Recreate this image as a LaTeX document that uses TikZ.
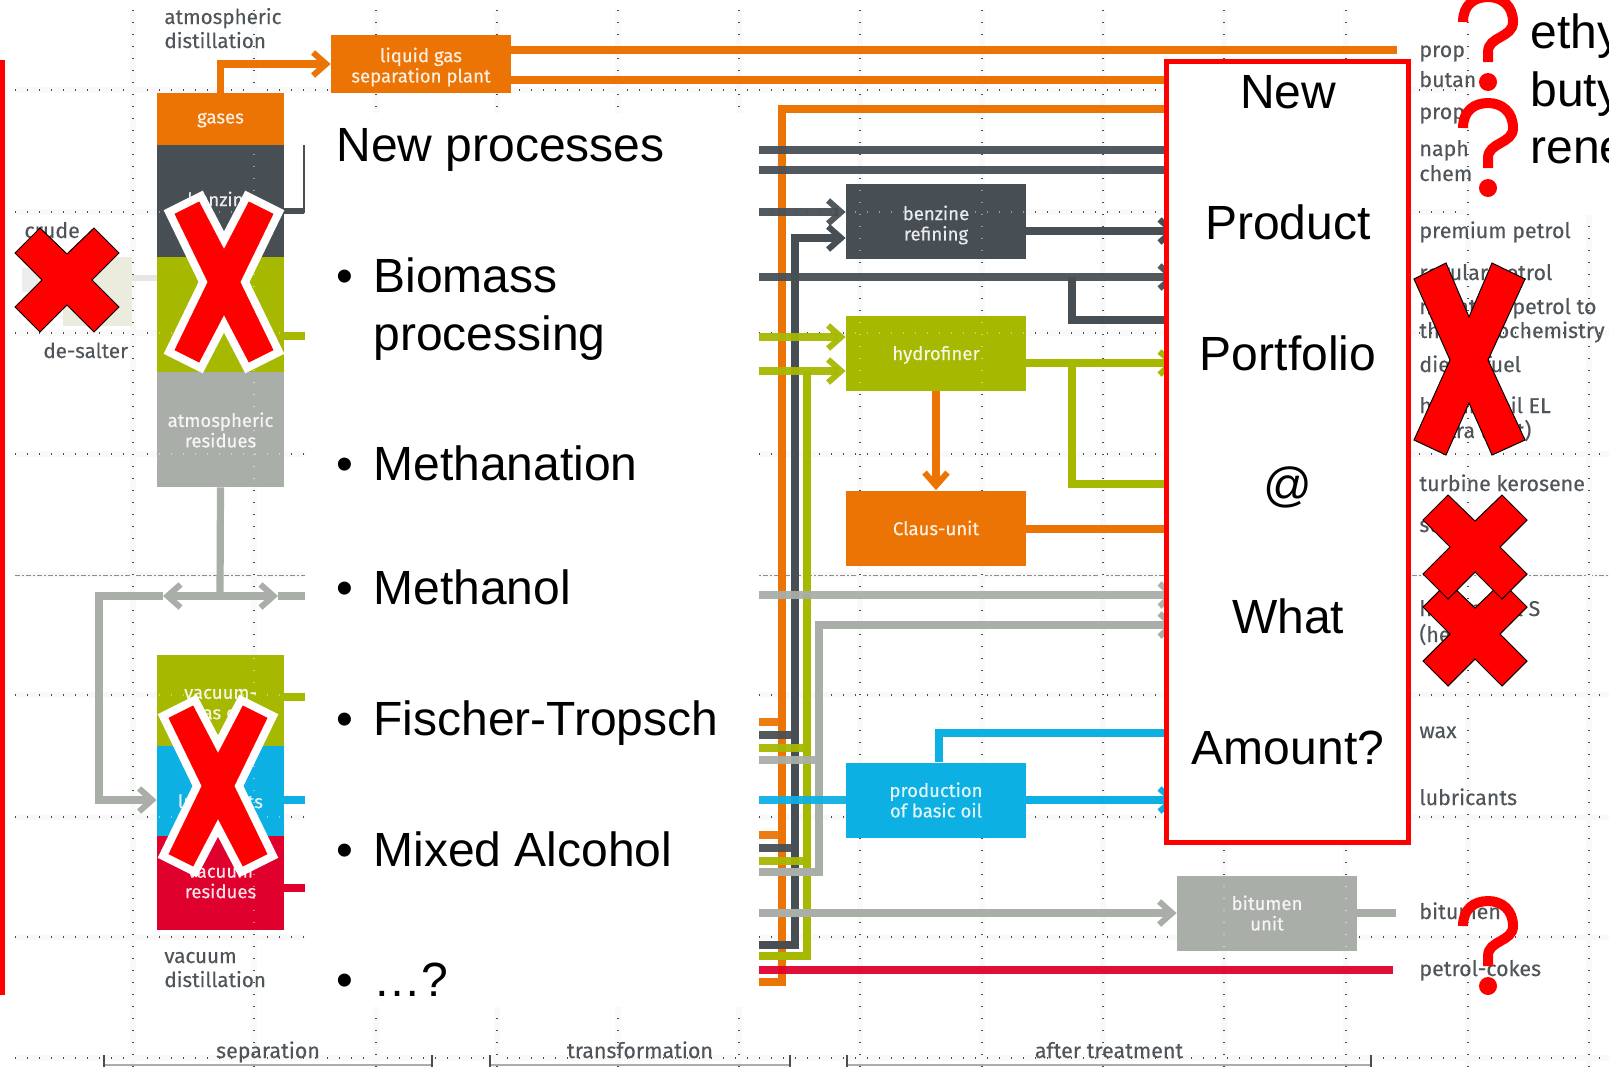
\documentclass[tikz,border=0pt]{standalone}
\usepackage{fontspec}
\setmainfont{Liberation Sans}
\newfontfamily\labelfont[FakeBold=0.25]{Fira Sans}
\usetikzlibrary{arrows.meta}
\definecolor{cOrange}{HTML}{EC7404}
\definecolor{cDark}{HTML}{474F55}
\definecolor{cGreen}{HTML}{A6B800}
\definecolor{cGray}{HTML}{A9AEA8}
\definecolor{cBlue}{HTML}{0DB0E3}
\definecolor{cRed}{HTML}{DF002D}
\definecolor{cTxt}{HTML}{50555A}
\tikzset{
  x=0.5pt,y=-0.5pt,
  griddot/.style={line width=0.54pt,dash pattern=on 0.55pt off 5.45pt,draw=black!70},
  gridhalo/.style={line width=3pt,draw=black!2.5},
  griddash/.style={line width=0.4pt,dash pattern=on 2.5pt off 1pt on 1pt off 1pt,draw=black!45},
  pipe/.style={line width=3.6pt,line cap=butt,line join=miter},
  pipeh/.style={pipe,opacity=.94},
  barb/.style={-{Straight Barb[length=6.5pt,width=11.5pt,line width=3pt]}},
  box/.style={inner sep=0pt,minimum width=90pt,minimum height=37.5pt},
  seg/.style={inner sep=0pt,minimum width=63.5pt},
  boxtxt/.style={inner sep=0pt,text=white,text opacity=.88,align=center,
     font=\labelfont\fontsize{9.3}{10.2}\selectfont},
  lbl/.style={inner sep=0pt,anchor=base west,align=left,text=cTxt,
     font=\labelfont\fontsize{10.7}{12}\selectfont},
  lbls/.style={lbl,font=\labelfont\fontsize{10.3}{12}\selectfont},
  big/.style={inner sep=0pt,anchor=base west,align=left,text=black,
     font=\fontsize{24}{29}\selectfont},
  bigc/.style={inner sep=0pt,anchor=base,text=black,font=\fontsize{24}{29}\selectfont},
  bigx/.pic={\path[fill=red,draw=white,line width=4pt,line join=miter]
     (-23,-86)--(0,-42)--(23,-86)--(55,-70)--(21,0)--(55,70)--(23,86)--(0,42)--(-23,86)--(-55,70)--(-21,0)--(-55,-70)--cycle;},
  tallx/.pic={\path[fill=red,draw=black,line width=0.5pt,line join=miter]
     (-23,-97)--(0,-43)--(23,-97)--(56,-81)--(19,0)--(56,80)--(23,95)--(0,43)--(-23,95)--(-55,80)--(-19,0)--(-55,-81)--cycle;},
  smallx/.pic={\path[fill=red,draw=black,line width=0.5pt,line join=miter]
     (-27,-52)--(0,-26)--(27,-52)--(52,-27)--(25,0)--(52,27)--(27,52)--(0,25)--(-27,52)--(-52,27)--(-25,0)--(-52,-27)--cycle;},
  qmark/.pic={\draw[red,line width=5pt,line cap=butt]
     (-25,30) .. controls (-25,13) and (-14,5) .. (0,5) .. controls (14,5) and (25,14) .. (25,30)
     .. controls (25,46) and (0,44) .. (0,60) -- (0,70);
     \fill[red] (0,90) circle[radius=4.5pt];}
}
\begin{document}
\begin{tikzpicture}
\useasboundingbox (0,0) rectangle (1609,1067);
\fill[white] (0,0) rectangle (1609,1067);

% background grid
\foreach \gy in {90,212,333,454,695,817,937,1058}{
  \draw[gridhalo] (15,\gy) -- (1609,\gy);
  \draw[griddot] (15,\gy) -- (1609,\gy);}
\draw[gridhalo] (15,575) -- (1609,575);
\draw[griddash] (15,575) -- (1609,575);
\foreach \gx in {133,254,376,497,618,739,860,982,1103,1224,1346,1468,1589}{
  \draw[gridhalo] (\gx,10) -- (\gx,1067);
  \draw[griddot] (\gx,10) -- (\gx,1067);}

% white cover panels
\fill[white] (305,113) rectangle (759,1007);
\fill[white] (1470,0) rectangle (1609,215);

% desalter
\fill[cGray!25!white!95!yellow] (63,257) rectangle (132,326);
\fill[cGray!22] (22,268) rectangle (63,292);
\draw[line width=3pt,cGray!30] (132,278) -- (157,278);

% process boxes
\node[box,fill=cOrange,minimum height=29pt] (lgas) at (421,64) {};
\node[box,fill=cDark] (benz) at (936,221) {};
\node[box,fill=cGreen] (hydro) at (936,353) {};
\node[box,fill=cOrange] (claus) at (936,528) {};
\node[box,fill=cBlue] (prod) at (936,800) {};
\node[box,fill=cGray] (bitu) at (1267,913) {};

% distillation columns
\node[seg,fill=cOrange,minimum height=26pt] (gases) at (220.5,119) {};
\node[seg,fill=cDark,minimum height=56pt] (benzc) at (220.5,201) {};
\node[seg,fill=cGreen,minimum height=57.5pt] (green1) at (220.5,314.5) {};
\node[seg,fill=cGray,minimum height=57.5pt] (resid) at (220.5,429.5) {};
\node[seg,fill=cGreen,minimum height=45.5pt] (vgas) at (220.5,700.5) {};
\node[seg,fill=cBlue,minimum height=45pt] (base) at (220.5,791) {};
\node[seg,fill=cRed,minimum height=47pt] (vres) at (220.5,883) {};

% grid dots showing through the boxes
\foreach \xa/\ya/\xb/\yb in {846/184/1026/259,846/315/1026/391,1177/875/1356/950,157/145/284/487,157/655/284/930}{
  \begin{scope}
    \clip (\xa,\ya) rectangle (\xb,\yb);
    \foreach \gy in {212,333,454,695,817}{\draw[griddot,draw=white,opacity=.45] (15,\gy) -- (1609,\gy);}
    \foreach \gx in {254,860,982,1224,1346}{\draw[griddot,draw=white,opacity=.45] (\gx,10) -- (\gx,1067);}
  \end{scope}}

% box labels
\node[boxtxt] (tLgas) at (421,67) {liquid gas\\separation plant};
\node[boxtxt] (tBenz) at (936,225) {benzine\\refining};
\node[boxtxt] (tHydro) at (936,355) {hydrofiner};
\node[boxtxt] (tClaus) at (936,528) {Claus-unit};
\node[boxtxt] (tProd) at (936,800) {production\\of basic oil};
\node[boxtxt] (tBitu) at (1267,913) {bitumen\\unit};
\node[boxtxt] (tGases) at (220.5,120) {gases};
\node[boxtxt] (tBenzc) at (220.5,199) {benzine};
\node[boxtxt] (tResid) at (220.5,430) {atmospheric\\residues};
\node[boxtxt] (tVgas) at (220.5,706) {vacuum-\\gas oil};
\node[boxtxt] (tBase) at (220.5,801) {lubricants};
\node[boxtxt] (tVres) at (220.5,883) {vacuum\\residues};

% vertical trunks
\coordinate (orTop) at (782,109);
\draw[pipe,cOrange] (759,982) -- (782,982) -- (orTop) -- (1165,109);
\coordinate (dkTop) at (795,238);
\draw[pipe,cDark,barb] (759,945) -- (795,945) -- (dkTop) -- (benz.west |- 0,238);
\coordinate (grTop) at (807,371);
\draw[pipe,cGreen] (759,956) -- (807,956) -- (grTop);
\coordinate (gyTop) at (819,625);
\draw[pipe,cGray,barb] (759,872) -- (819,872) -- (gyTop) -- (1177,625);

% left stubs into trunks
\draw[pipeh,cOrange] (759,722) -- (782,722);
\draw[pipeh,cOrange] (759,835) -- (782,835);
\draw[pipeh,cDark] (759,735) -- (795,735);
\draw[pipeh,cDark] (759,848) -- (795,848);
\draw[pipeh,cGreen] (759,748) -- (807,748);
\draw[pipeh,cGreen] (759,861) -- (807,861);
\draw[pipeh,cGray] (759,760) -- (819,760);

% top orange
\draw[pipe,cOrange] (gases.north) -- (gases.north |- 0,64);
\draw[pipe,cOrange,barb] (217,64) -- (lgas.west |- 0,64);
\draw[pipe,cOrange] (lgas.east |- 0,50) -- (1397,50);
\draw[pipe,cOrange] (lgas.east |- 0,80) -- (1165,80);

% dark lines
\draw[pipeh,cDark] (759,150) -- (1165,150);
\draw[pipeh,cDark] (759,170) -- (1165,170);
\draw[pipeh,cDark,barb] (759,212) -- (benz.west |- 0,212);
\draw[pipe,cDark,barb] (benz.east |- 0,231) -- (1177,231);
\draw[pipeh,cDark,barb] (759,277) -- (1177,277);
\draw[pipe,cDark] (1072,277) -- (1072,320) -- (1165,320);

% green lines
\draw[pipeh,cGreen,barb] (759,337) -- (hydro.west |- 0,337);
\draw[pipeh,cGreen,barb] (759,371) -- (hydro.west |- 0,371);
\draw[pipe,cGreen,barb] (hydro.east |- 0,363) -- (1177,363);
\draw[pipe,cGreen] (1072,363) -- (1072,484) -- (1165,484);

% orange hydrofiner to Claus
\draw[pipe,cOrange,barb] (hydro.south) -- (claus.north);
\draw[pipe,cOrange] (claus.east |- 0,529) -- (1165,529);

% gray lines
\draw[pipeh,cGray,barb] (759,595) -- (1177,595);
\draw[pipe,cGray,barb] (759,913) -- (bitu.west |- 0,913);
\draw[pipe,cGray] (bitu.east |- 0,913) -- (1396,913);

% blue lines
\draw[pipeh,cBlue] (759,800) -- (prod.west);
\draw[pipe,cBlue,barb] (prod.east) -- (1177,800);
\draw[pipe,cBlue] (939,762) -- (939,733) -- (1165,733);

% red coke line
\draw[pipeh,cRed] (759,970) -- (1393,970);

% stubs from columns
\draw[line width=2.8pt,cDark] (benzc.east |- 0,211) -- (304,211);
\draw[line width=1pt,cDark] (304,145) -- (304,213);
\draw[pipe,cGreen] (green1.east |- 0,336) -- (305,336);
\draw[pipe,cGreen] (vgas.east |- 0,697) -- (305,697);
\draw[pipe,cBlue] (base.east |- 0,800) -- (305,800);
\draw[pipe,cRed] (vres.east |- 0,888) -- (305,888);

% vacuum feed
\coordinate (fork) at (220,596);
\draw[pipe,cGray] (resid.south) -- (fork);
\draw[pipe,cGray,barb] (fork) -- (163,596);
\draw[pipe,cGray,barb] (fork) -- (278,596);
\draw[pipe,cGray] (278,596) -- (305,596);
\draw[pipe,cGray,barb] (163,596) -- (99,596) -- (99,800) -- (base.west |- 0,800);

% section brackets
\draw[line width=0.6pt,cGray] (104,1065) -- (432,1065);
\draw[line width=0.6pt,cGray] (490,1065) -- (790,1065);
\draw[line width=0.6pt,cGray] (847,1065) -- (1371,1065);
\foreach \tx in {104,432,490,790,847,1371}{\draw[line width=0.7pt,cDark] (\tx,1055) -- (\tx,1067);}

% small labels, left
\node[lbls] (tAtm) at (164,48) {atmospheric\\distillation};
\node[lbl] (tCrude) at (24,238) {crude};
\node[lbls] (tDes) at (43,358) {de-salter};
\node[lbls] (tVac) at (164,987) {vacuum\\distillation};
\node[lbl,anchor=base] (tSep) at (268,1058) {separation};
\node[lbl,anchor=base] (tTra) at (640,1058) {transformation};
\node[lbl,anchor=base] (tAft) at (1109,1058) {after treatment};

% small labels, right
\node[lbl] (r1) at (1419,57) {prop};
\node[lbl] (r2) at (1419,87) {butan};
\node[lbl] (r3) at (1419,119) {prop};
\node[lbl] (r4) at (1419,156) {naph};
\node[lbl] (r5) at (1419,181) {chem};
\node[lbl] (r6) at (1419,238) {premium petrol};
\node[lbl] (r7) at (1419,280) {regular petrol};
\node[lbl] (r8) at (1419,314) {naphtha\hspace{3pt} petrol to};
\node[lbl] (r9) at (1419,338) {the petrochemistry};
\node[lbl] (r10) at (1419,372) {diesel fuel};
\node[lbl] (r11) at (1419,413) {heating oil EL};
\node[lbl] (r12) at (1419,438) {(extra light)};
\node[lbl] (r13) at (1419,491) {turbine kerosene};
\node[lbl] (r14) at (1419,532) {sulphur};
\node[lbl] (r15) at (1419,616) {heating oil S};
\node[lbl] (r16) at (1419,642) {(heavy)};
\node[lbl] (r17) at (1419,738) {wax};
\node[lbl] (r18) at (1419,805) {lubricants};
\node[lbl] (r19) at (1419,919) {bitumen};
\node[lbl] (r20) at (1419,976) {petrol-cokes};

% red bar on the left
\fill[red] (0,60) rectangle (5,995);

% product box
\node[draw=red,fill=white,line width=2.5pt,inner sep=0pt,minimum width=121pt,minimum height=390.5pt] (portfolio) at (1287.5,452) {};
\node[bigc] (p1) at (1288,108) {New};
\node[bigc] (p2) at (1288,239.5) {Product};
\node[bigc] (p3) at (1288,370.5) {Portfolio};
\node[bigc] (p4) at (1288,501) {@};
\node[bigc] (p5) at (1288,633) {What};
\node[bigc] (p6) at (1288,764) {Amount?};

% new processes
\node[big] (hd) at (336,161) {New processes};
\foreach \nm/\by in {b1/292,b2/480,b3/604,b4/735,b5/866,b6/996}{\node[big] (\nm) at (336,\by) {•};}
\node[big] (i1) at (373,350) {Biomass\\processing};
\node[big] (i2) at (373,480) {Methanation};
\node[big] (i3) at (373,604) {Methanol};
\node[big] (i4) at (373,735) {Fischer-Tropsch};
\node[big] (i5) at (373,866) {Mixed Alcohol};
\node[big] (i6) at (373,996) {…?};

% right-hand text
\node[big] (e1) at (1530,48) {ethy};
\node[big] (e2) at (1530,106) {buty};
\node[big] (e3) at (1530,163) {rene};

% overlay marks
\pic at (224,282) {bigx};
\pic at (218,786) {bigx};
\pic at (67,280) {smallx};
\pic at (1469,360) {tallx};
\pic at (1475,634) {smallx};
\pic at (1475,547) {smallx};
\pic at (1488,-8) {qmark};
\pic at (1488,98) {qmark};
\pic at (1488,896) {qmark};
\end{tikzpicture}
\end{document}
